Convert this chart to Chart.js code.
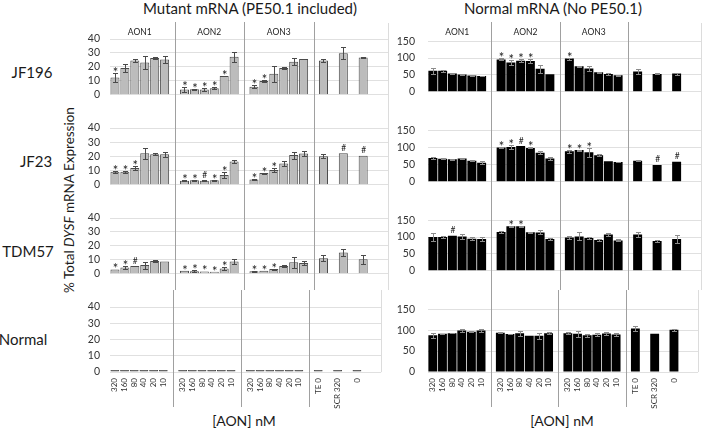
<!DOCTYPE html>
<html><head><meta charset="utf-8">
<script src="https://cdn.jsdelivr.net/npm/chart.js@4.4.1/dist/chart.umd.min.js"></script>
<style>
html,body{margin:0;padding:0;background:#fff;}
body{width:709px;height:428px;position:relative;overflow:hidden;font-family:Lato,"Open Sans",sans-serif;color:#1a1a1a;}
canvas{position:absolute;}
.t{position:absolute;white-space:nowrap;line-height:1;transform:translate(-50%,-50%);}
</style></head><body>
<div class="t" style="left:250px;top:8px;font-size:15px">Mutant mRNA (PE50.1 included)</div>
<div class="t" style="left:553px;top:8px;font-size:15px">Normal mRNA (No PE50.1)</div>
<div class="t" style="left:32px;top:72px;font-size:15px">JF196</div>
<div class="t" style="left:36px;top:161px;font-size:15px">JF23</div>
<div class="t" style="left:28px;top:251px;font-size:15px">TDM57</div>
<div class="t" style="left:23px;top:339px;font-size:15px">Normal</div>
<div class="t" style="left:70px;top:200px;font-size:13.5px;transform:translate(-50%,-50%) rotate(-90deg)">% Total <i>DYSF</i> mRNA Expression</div>
<div class="t" style="left:244px;top:421px;font-size:14px">[AON] nM</div>
<div class="t" style="left:562px;top:421px;font-size:14px">[AON] nM</div>
<script>
// ---------- categories ----------
const groups = ['AON1','AON2','AON3'];
const doses = ['320','160','80','40','20','10'];
const controls = ['TE 0','SCR 320','0'];
const cellLines = ['JF196','JF23','TDM57','Normal'];

// ---------- Mutant mRNA (PE50.1 included), % ----------
const mutJF196    = [12.3,19.1,24.6,23.2,26.3,25.2, 3.7,3.9,3.7,4.7,13.5,27.3, 5.7,9.8,15.0,19.1,23.6,25.6, 24.6,29.7,26.7];
const mutJF196Err = [3.4,2.7,1.2,4.5,1.0,2.4, 1.8,0.5,0.8,0.8,0,3.5, 1.2,1.0,5.6,0.5,2.6,0, 1.2,4.4,0.3];
const mutJF196Sig = ['*','','','','','', '*','*','*','*','*','', '*','*','','','','', '','',''];

const mutJF23     = [9.2,9.2,11.7,22.2,21.5,21.5, 2.7,3.1,2.7,3.1,6.8,16.4, 3.7,8.2,10.3,15.0,20.9,22.0, 20.1,22.2,20.5];
const mutJF23Err  = [0.6,0.6,1.6,4.0,0.6,1.8, 0.3,0.3,0.3,0.3,2.0,1.2, 0.5,0.3,1.6,1.5,2.5,1.8, 1.6,0,0];
const mutJF23Sig  = ['*','*','*','','','', '*','*','#','*','*','', '*','*','*','','','', '','#','#'];

const mutTDM57    = [3.1,4.5,5.5,6.2,9.2,8.8, 2.1,1.8,1.6,1.4,3.7,8.8, 1.8,2.1,3.3,5.5,8.2,7.6, 11.1,15.2,10.3];
const mutTDM57Err = [0,0.8,0,2.5,0.5,0, 0,0.5,0,0,0.8,2.0, 0.4,0,0.4,0.5,4.0,1.5, 2.0,2.5,3.0];
const mutTDM57Sig = ['*','*','#','','','', '*','*','*','*','*','', '*','*','*','','','', '','',''];

const mutNormal    = [1.3,1.3,1.3,1.3,1.3,1.3, 1.3,1.3,1.3,1.3,1.3,1.3, 1.3,1.3,1.3,1.3,1.3,1.3, 1.3,1.3,1.3];
const mutNormalErr = [0,0,0,0,0,0, 0,0,0,0,0,0, 0,0,0,0,0,0, 0,0,0];
const mutNormalSig = ['','','','','','', '','','','','','', '','','','','','', '','',''];

// ---------- Normal mRNA (No PE50.1), % ----------
const norJF196    = [62,62,54,51.5,48.5,47, 96,87,92,91,68,52, 98.5,75.5,69,57.7,53,49, 60,53,54];
const norJF196Err = [10,2,1,1,2,1, 3,7,4,6,12,0, 3,2,7,1,3,2, 8,1.5,3];
const norJF196Sig = ['','','','','','', '*','*','*','*','','', '*','','','','','', '','',''];

const norJF23     = [69,67,65.4,67.7,61.5,55.4, 100,101.5,104,98.5,84.6,67.7, 88.5,92.3,86,77,60,57.7, 61.5,49,58.5];
const norJF23Err  = [2,2,1.5,1.5,2,4, 2,7,0,1.5,4,3, 4,1.5,13,3,0,1, 1,0,0];
const norJF23Sig  = ['','','','','','', '*','*','#','*','','', '*','*','*','','','', '','#','#'];

const norTDM57    = [100,100,104,101.5,95.4,94.6, 115,132,132,114.6,114,94.6, 98.5,102,97,91,107.7,90, 107.7,88.5,94.6];
const norTDM57Err = [12,3,0,8,4,5, 4,1,1,2,6,4, 4,12,4,4,5,3, 7,3,13];
const norTDM57Sig = ['','','#','','','', '','*','*','','','', '','','','','','', '','',''];

const norNormal    = [87.7,91.5,93,99,96,99, 94,91,93,87,87,93, 93,91.5,87.7,89,92,90, 104,91.5,101];
const norNormalErr = [6,0.5,0.5,3,1,4, 1,1,6,0,7,2, 2,7,3,4,4,4, 5,0,2];
const norNormalSig = ['','','','','','', '','','','','','', '','','','','','', '','',''];

const yTicksMutant = [0,10,20,30,40];
const yTicksNormal = [0,50,100,150];

// ---------- layout of category slots (blank slots separate groups) ----------
const slotLabels = [], slotMap = [], gapSlots = [], groupSlots = [];
groups.forEach(g => {
  const idx = [];
  doses.forEach(d => { idx.push(slotLabels.length); slotMap.push(slotLabels.length); slotLabels.push(d); });
  groupSlots.push(idx);
  gapSlots.push(slotLabels.length); slotLabels.push('');
});
controls.forEach((c, ci) => {
  slotMap.push(slotLabels.length); slotLabels.push(c);
  slotLabels.push('');
});
slotLabels.push('');
function expand(arr) {
  const out = new Array(slotLabels.length).fill(null);
  arr.forEach((v, i) => { out[slotMap[i]] = v; });
  return out;
}

const FONT = 'Lato, "Open Sans", sans-serif';
const rowTops = [22, 111, 201, 290];
const rowHeights = [89, 90, 89, 125];
const PLOT_BOTTOM = 82;

const mutantRows = [[mutJF196, mutJF196Err, mutJF196Sig],[mutJF23, mutJF23Err, mutJF23Sig],[mutTDM57, mutTDM57Err, mutTDM57Sig],[mutNormal, mutNormalErr, mutNormalSig]];
const normalRows = [[norJF196, norJF196Err, norJF196Sig],[norJF23, norJF23Err, norJF23Sig],[norTDM57, norTDM57Err, norTDM57Sig],[norNormal, norNormalErr, norNormalSig]];

function panel(side, row, vals, errs, sigs) {
  const isLeft = side === 'L';
  const h = rowHeights[row];
  const w = isLeft ? 312 : 317;
  const cv = document.createElement('canvas');
  cv.width = w; cv.height = h;
  cv.style.width = w + 'px'; cv.style.height = h + 'px';
  cv.style.left = (isLeft ? 80 : 392) + 'px';
  cv.style.top = rowTops[row] + 'px';
  document.body.appendChild(cv);
  const data = expand(vals), err = expand(errs), sig = expand(sigs);
  const ticks = isLeft ? yTicksMutant : yTicksNormal;
  const isBottom = row === 3;

  const deco = {
    id: 'deco' + side + row,
    afterDatasetsDraw(chart) {
      const ctx = chart.ctx, xs = chart.scales.x, ys = chart.scales.y, ca = chart.chartArea;
      const meta = chart.getDatasetMeta(0);
      ctx.save();
      // error bars
      ctx.strokeStyle = isLeft ? '#4a4a4a' : '#8c8c8c';
      ctx.lineWidth = 1;
      data.forEach((v, i) => {
        if (v === null || !err[i]) return;
        const x = Math.round(meta.data[i].x) + 0.5;
        const yt = Math.round(ys.getPixelForValue(v + err[i])) + 0.5;
        const yb = Math.round(ys.getPixelForValue(Math.max(0, v - err[i]))) + 0.5;
        ctx.beginPath();
        ctx.moveTo(x, yt); ctx.lineTo(x, yb);
        ctx.moveTo(x - 2.5, yt); ctx.lineTo(x + 2.5, yt);
        ctx.moveTo(x - 2.5, yb); ctx.lineTo(x + 2.5, yb);
        ctx.stroke();
      });
      // significance markers
      ctx.fillStyle = '#222';
      ctx.textAlign = 'center';
      ctx.textBaseline = 'alphabetic';
      data.forEach((v, i) => {
        if (v === null || !sig[i]) return;
        const x = meta.data[i].x + 0.5;
        const y = ys.getPixelForValue(v + (err[i] || 0));
        if (sig[i] === '*') { ctx.font = '13px ' + FONT; ctx.fillText('*', x, y + 4); }
        else { ctx.font = '8.5px ' + FONT; ctx.fillText('#', x, y - 2.5); }
      });
      // group separators
      ctx.strokeStyle = '#a0a0a0';
      const yEnd = isBottom ? ca.bottom + 35 : chart.height;
      gapSlots.forEach(g => {
        const x = Math.round(xs.getPixelForValue(g)) + 0.5;
        ctx.beginPath(); ctx.moveTo(x, 0); ctx.lineTo(x, yEnd); ctx.stroke();
      });
      // plot-area right edge
      ctx.strokeStyle = '#dcdcdc';
      const xr = Math.round(ca.right) + 0.5;
      ctx.beginPath(); ctx.moveTo(xr, row === 0 ? 1 : 0); ctx.lineTo(xr, isBottom ? ca.bottom : chart.height); ctx.stroke();
      // group headers
      if (row === 0) {
        ctx.fillStyle = '#222';
        ctx.font = '8.5px ' + FONT;
        ctx.textBaseline = 'middle';
        groupSlots.forEach((idx, gi) => {
          const xa = xs.getPixelForValue(idx[0]), xb = xs.getPixelForValue(idx[idx.length - 1]);
          ctx.fillText(groups[gi], (xa + xb) / 2, 10);
        });
      }
      ctx.restore();
    }
  };

  new Chart(cv, {
    type: 'bar',
    data: {
      labels: slotLabels,
      datasets: [{
        data: data,
        backgroundColor: isLeft ? (isBottom ? '#3a3a3a' : '#bcbcbc') : '#000000',
        borderColor: isLeft ? '#4a4a4a' : '#000000',
        borderWidth: isLeft ? 1 : 0,
        barPercentage: isLeft ? 0.91 : 0.92,
        categoryPercentage: 1
      }]
    },
    options: {
      responsive: false, animation: false, devicePixelRatio: 1,
      layout: { padding: { left: 0, right: isLeft ? 4 : 8, top: 17, bottom: isBottom ? 0 : h - PLOT_BOTTOM } },
      plugins: { legend: { display: false }, tooltip: { enabled: false } },
      scales: {
        x: {
          display: isBottom,
          grid: { display: false, drawTicks: false }, border: { display: false },
          ticks: { autoSkip: false, minRotation: 90, maxRotation: 90, padding: 6, color: '#333', font: { size: 8, family: FONT } },
          afterFit: s => { s.height = h - PLOT_BOTTOM; }
        },
        y: {
          min: ticks[0], max: ticks[ticks.length - 1],
          afterBuildTicks: s => { s.ticks = ticks.map(v => ({ value: v })); },
          grid: { color: '#e0e0e0', drawTicks: false }, border: { display: false },
          ticks: { padding: isLeft ? 10 : 13, color: '#333', font: { size: 10.5, family: FONT } },
          afterFit: s => { s.width = isLeft ? 30 : 36; }
        }
      }
    },
    plugins: [deco]
  });
}

for (let r = 0; r < 4; r++) {
  panel('L', r, mutantRows[r][0], mutantRows[r][1], mutantRows[r][2]);
  panel('R', r, normalRows[r][0], normalRows[r][1], normalRows[r][2]);
}
</script>
</body></html>
